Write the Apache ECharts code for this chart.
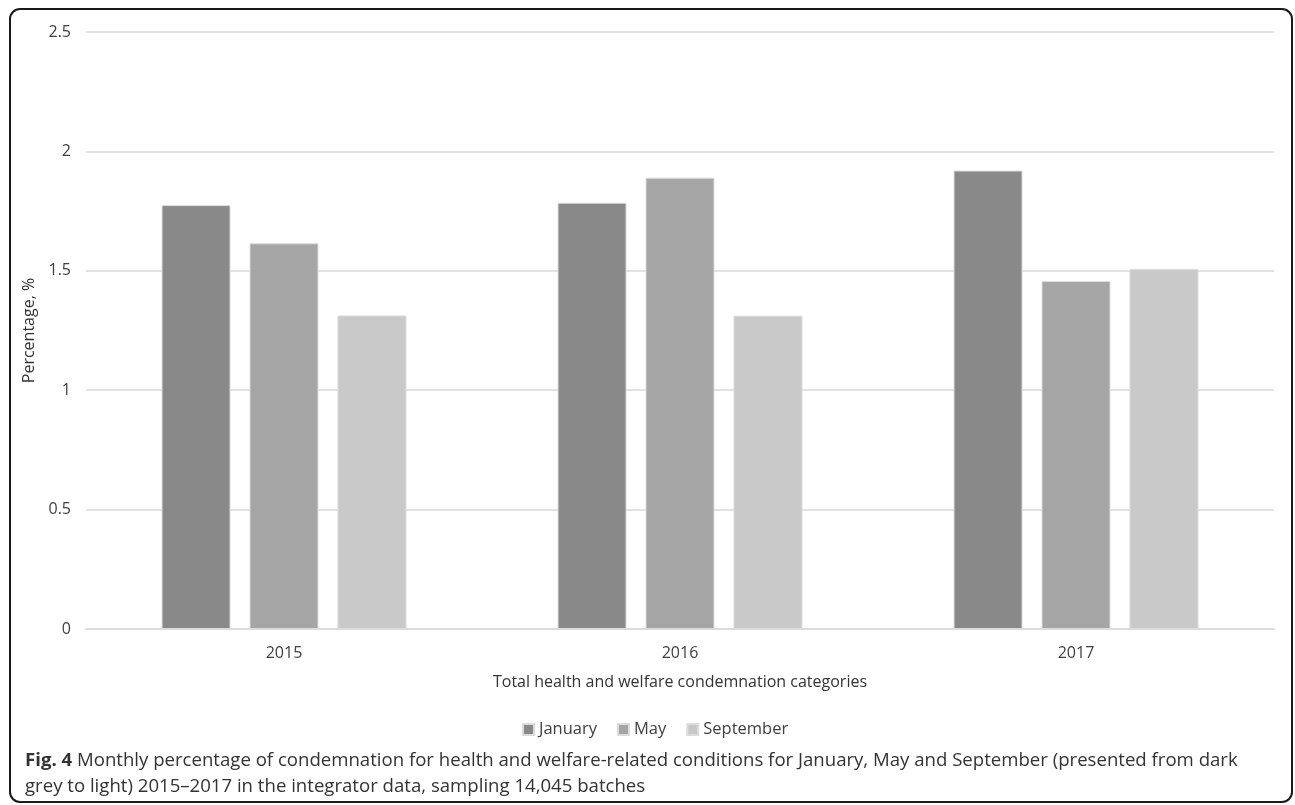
<!DOCTYPE html>
<html>
<head>
<meta charset="utf-8">
<script src="https://cdn.jsdelivr.net/npm/echarts@6/dist/echarts.min.js"></script>
<style>
  html, body { margin: 0; padding: 0; background: #ffffff; }
  #chart { width: 1295px; height: 805px; }
</style>
</head>
<body>
<div id="chart"></div>
<script>
// Years shown along the category axis
const years = ['2015', '2016', '2017'];

// Condemnation percentage per month, one value per year
const january = [1.775, 1.785, 1.92];
const may = [1.615, 1.89, 1.457];
const september = [1.313, 1.312, 1.508];

// Value axis ticks
const yMin = 0;
const yMax = 2.5;
const yStep = 0.5;

const FONT = '"Open Sans", "Noto Sans", sans-serif';

const chart = echarts.init(document.getElementById('chart'), null, { renderer: 'canvas' });

const barStyle = (color) => ({
  color: color,
  borderColor: '#dcdcdc',
  borderWidth: 1
});

chart.setOption({
  backgroundColor: '#ffffff',
  animation: false,
  textStyle: { fontFamily: FONT },
  grid: { left: 86, right: 21, top: 32, bottom: 176, containLabel: false },
  legend: {
    data: ['January', 'May', 'September'],
    top: 716,
    left: 517,
    icon: 'rect',
    itemWidth: 11,
    itemHeight: 11,
    itemGap: 20,
    textStyle: { fontFamily: FONT, fontSize: 16.5, color: '#404040' }
  },
  xAxis: {
    type: 'category',
    data: years,
    name: 'Total health and welfare condemnation categories',
    nameLocation: 'middle',
    nameGap: 45,
    nameTextStyle: { fontFamily: FONT, fontSize: 16, color: '#333333' },
    axisLine: { show: true, lineStyle: { color: '#d9d9d9', width: 1.5 } },
    axisTick: { show: false },
    axisLabel: { margin: 16, fontFamily: FONT, fontSize: 16, color: '#404040' }
  },
  yAxis: {
    type: 'value',
    min: yMin,
    max: yMax,
    interval: yStep,
    name: 'Percentage, %',
    nameLocation: 'middle',
    nameGap: 34,
    nameTextStyle: { fontFamily: FONT, fontSize: 16, color: '#333333' },
    axisLine: { show: false },
    axisTick: { show: false },
    axisLabel: { margin: 15, fontFamily: FONT, fontSize: 16, color: '#404040' },
    splitLine: { lineStyle: { color: '#d9d9d9', width: 1.5 } }
  },
  series: [
    {
      name: 'January', type: 'bar', data: january,
      barWidth: 69, barGap: '27.5%',
      itemStyle: barStyle('#898989')
    },
    {
      name: 'May', type: 'bar', data: may,
      barWidth: 69, barGap: '27.5%',
      itemStyle: barStyle('#a5a5a5')
    },
    {
      name: 'September', type: 'bar', data: september,
      barWidth: 69, barGap: '27.5%',
      itemStyle: barStyle('#c9c9c9')
    }
  ],
  graphic: [
    {
      type: 'rect',
      shape: { x: 10, y: 9, width: 1282, height: 793, r: 10 },
      style: { fill: 'none', stroke: '#1a1a1a', lineWidth: 2 },
      silent: true,
      z: 100
    },
    {
      type: 'text',
      left: 25,
      top: 751,
      style: {
        text: '{b|Fig. 4} Monthly percentage of condemnation for health and welfare-related conditions for January, May and September (presented from dark',
        font: '18.6px ' + FONT,
        fill: '#333333',
        rich: {
          b: { fontWeight: 'bold', fontSize: 18.6, fontFamily: FONT, fill: '#333333' }
        }
      }
    },
    {
      type: 'text',
      left: 25,
      top: 777,
      style: {
        text: 'grey to light) 2015\u20132017 in the integrator data, sampling 14,045 batches',
        font: '18.6px ' + FONT,
        fill: '#333333'
      }
    }
  ]
});
</script>
</body>
</html>
